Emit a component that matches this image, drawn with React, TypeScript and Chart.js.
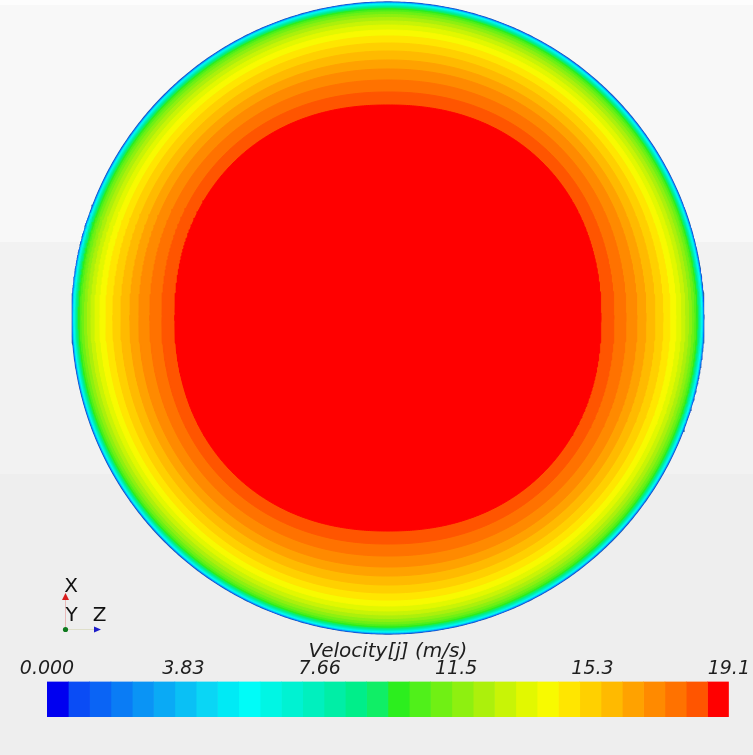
import React, { useEffect, useRef } from "react";
import { Chart, registerables } from "chart.js";

Chart.register(...registerables);

// Velocity range of the colour map (m/s)
const velocityMin = 0;
const velocityMax = 19.15;

// Colour of each of the 32 colour-map bins, lowest velocity first
const binColors = [
  "#0000f0", "#0a4cf5", "#0a64f5", "#0a7cf5", "#0a94f5", "#0aaaf5", "#0ac0f5", "#0ad6f5",
  "#00eaf5", "#00fcf8", "#00f6e4", "#00f2d2", "#00f0be", "#00eea6", "#00ee8a", "#10ee66",
  "#2cee1e", "#50f01a", "#70f014", "#8ef010", "#acf00c", "#c8f406", "#e2f800", "#f8fa00",
  "#ffe600", "#ffd000", "#ffba00", "#ffa200", "#ff8a00", "#ff7200", "#ff5500", "#ff0000",
];

// Half-width (fraction of pipe radius) of the contour where each bin begins
const contourRadius = [
  1.0, 0.9991, 0.9984, 0.9978, 0.9972, 0.9965, 0.9959, 0.9949,
  0.994, 0.9927, 0.9911, 0.9896, 0.988, 0.9861, 0.9842, 0.9817,
  0.9785, 0.9741, 0.9684, 0.9604, 0.951, 0.9399, 0.9272, 0.9114,
  0.8924, 0.8703, 0.8449, 0.8165, 0.788, 0.7532, 0.7152, 0.6741,
];

// Squareness (superellipse exponent) of each contour: 2 = circle
const contourExponent = [
  2, 2, 2, 2, 2, 2, 2, 2,
  2, 2, 2, 2, 2, 2, 2, 2,
  2, 2, 2, 2, 2, 2, 2, 2.01,
  2.02, 2.03, 2.04, 2.06, 2.08, 2.11, 2.14, 2.18,
];

// Colour bar tick values and labels
const tickValues = [0, 3.83, 7.66, 11.49, 15.32, 19.15];
const tickLabels = ["0.000", "3.83", "7.66", "11.5", "15.3", "19.1"];
const colorbarTitle = "Velocity[j] (m/s)";
const triadLabels = ["X", "Y", "Z"];

const W = 753;
const H = 755;
const MAIN_H = 640;
const CX = 388;
const CY = 318;
const R_PX = 316;
const BAR_TOP = 620;
const BAR_H = 135;

function contourPoints(a: number, p: number) {
  const pts: { x: number; y: number }[] = [];
  const n = 720;
  const e = 2 / p;
  for (let i = 0; i <= n; i++) {
    const t = (i / n) * Math.PI * 2;
    const c = Math.cos(t);
    const s = Math.sin(t);
    pts.push({
      x: a * Math.sign(c) * Math.pow(Math.abs(c), e),
      y: a * Math.sign(s) * Math.pow(Math.abs(s), e),
    });
  }
  return pts;
}

function binEdge(i: number) {
  return velocityMin + (i * (velocityMax - velocityMin)) / binColors.length;
}

const triadPlugin = {
  id: "triad",
  afterDraw(chart: any) {
    const ctx: CanvasRenderingContext2D = chart.ctx;
    ctx.save();
    ctx.lineWidth = 1;
    ctx.strokeStyle = "rgba(220,90,90,0.35)";
    ctx.beginPath();
    ctx.moveTo(65.5, 599);
    ctx.lineTo(65.5, 627);
    ctx.stroke();
    ctx.strokeStyle = "rgba(190,190,120,0.3)";
    ctx.beginPath();
    ctx.moveTo(68, 629.5);
    ctx.lineTo(94, 629.5);
    ctx.stroke();
    // X arrow head
    ctx.fillStyle = "#d81e1e";
    ctx.beginPath();
    ctx.moveTo(65.5, 593);
    ctx.lineTo(69, 600);
    ctx.lineTo(62, 600);
    ctx.closePath();
    ctx.fill();
    // Y (out of plane) dot
    ctx.fillStyle = "#0f7a1e";
    ctx.beginPath();
    ctx.arc(65.5, 629.5, 2.6, 0, Math.PI * 2);
    ctx.fill();
    // Z arrow head
    ctx.fillStyle = "#1c1cc8";
    ctx.beginPath();
    ctx.moveTo(101, 629.5);
    ctx.lineTo(94, 626.5);
    ctx.lineTo(94, 632.5);
    ctx.closePath();
    ctx.fill();
    ctx.fillStyle = "#111";
    ctx.font = '20px "DejaVu Sans"';
    ctx.textAlign = "center";
    ctx.textBaseline = "alphabetic";
    ctx.fillText(triadLabels[0], 71, 592);
    ctx.fillText(triadLabels[1], 71.5, 621);
    ctx.fillText(triadLabels[2], 99.5, 621);
    ctx.restore();
  },
};

export default function App() {
  const mainRef = useRef<HTMLCanvasElement>(null);
  const barRef = useRef<HTMLCanvasElement>(null);

  useEffect(() => {
    document.body.style.margin = "0";

    const n = contourRadius.length;
    const datasets = contourRadius.map((r, k) => ({
      label: `bin ${k + 1}`,
      data: contourPoints(r, contourExponent[k]),
      fill: "shape",
      backgroundColor: binColors[k],
      borderColor: k === 0 ? "#2a64a8" : binColors[k],
      borderWidth: k === 0 ? 1.3 : 1,
      pointRadius: 0,
      pointHoverRadius: 0,
      tension: 0,
      order: n - 1 - k,
    }));

    const main = new Chart(mainRef.current as HTMLCanvasElement, {
      type: "line",
      data: { datasets } as any,
      options: {
        animation: false,
        responsive: false,
        maintainAspectRatio: false,
        events: [],
        layout: { padding: 0 },
        plugins: {
          legend: { display: false },
          tooltip: { enabled: false },
          filler: { propagate: false },
        },
        scales: {
          x: { type: "linear", min: -CX / R_PX, max: (W - CX) / R_PX, display: false },
          y: { type: "linear", min: -(MAIN_H - CY) / R_PX, max: CY / R_PX, display: false },
        },
      } as any,
      plugins: [triadPlugin],
    });

    const barDatasets = binColors.map((c, k) => ({
      label: `bin ${k + 1}`,
      data: [[binEdge(k), binEdge(k + 1)]],
      backgroundColor: c,
      borderWidth: 0,
      grouped: false,
      barPercentage: 1,
      categoryPercentage: 1,
    }));

    const bar = new Chart(barRef.current as HTMLCanvasElement, {
      type: "bar",
      data: { labels: ["v"], datasets: barDatasets } as any,
      options: {
        animation: false,
        responsive: false,
        maintainAspectRatio: false,
        events: [],
        indexAxis: "y",
        layout: { padding: { left: 47, right: 22, top: 26, bottom: 38 } },
        plugins: { legend: { display: false }, tooltip: { enabled: false } },
        scales: {
          x: {
            type: "linear",
            position: "top",
            min: velocityMin,
            max: velocityMax,
            grid: { display: false, drawTicks: false },
            border: { display: false },
            afterBuildTicks: (scale: any) => {
              scale.ticks = tickValues.map((v) => ({ value: v }));
            },
            ticks: {
              autoSkip: false,
              maxRotation: 0,
              padding: 3,
              color: "#1e1e1e",
              font: { family: "DejaVu Sans", style: "italic", size: 19, lineHeight: 1 },
              callback: (_v: any, i: number) => tickLabels[i],
            },
            title: {
              display: true,
              text: colorbarTitle,
              color: "#1e1e1e",
              padding: 0,
              font: { family: "DejaVu Sans", style: "italic", size: 20, lineHeight: 0.6 },
            },
          },
          y: { type: "category", display: false },
        },
      } as any,
    });

    return () => {
      main.destroy();
      bar.destroy();
    };
  }, []);

  return (
    <div
      style={{
        position: "relative",
        width: W,
        height: H,
        overflow: "hidden",
        background:
          "linear-gradient(to bottom, #fdfdfd 0px, #fdfdfd 5px, #f8f8f8 5px, #f8f8f8 242px, #f2f2f2 242px, #f2f2f2 474px, #eeeeee 474px, #eeeeee 755px)",
      }}
    >
      <canvas ref={mainRef} width={W} height={MAIN_H} style={{ position: "absolute", left: 0, top: 0 }} />
      <canvas ref={barRef} width={W} height={BAR_H} style={{ position: "absolute", left: 0, top: BAR_TOP }} />
    </div>
  );
}
